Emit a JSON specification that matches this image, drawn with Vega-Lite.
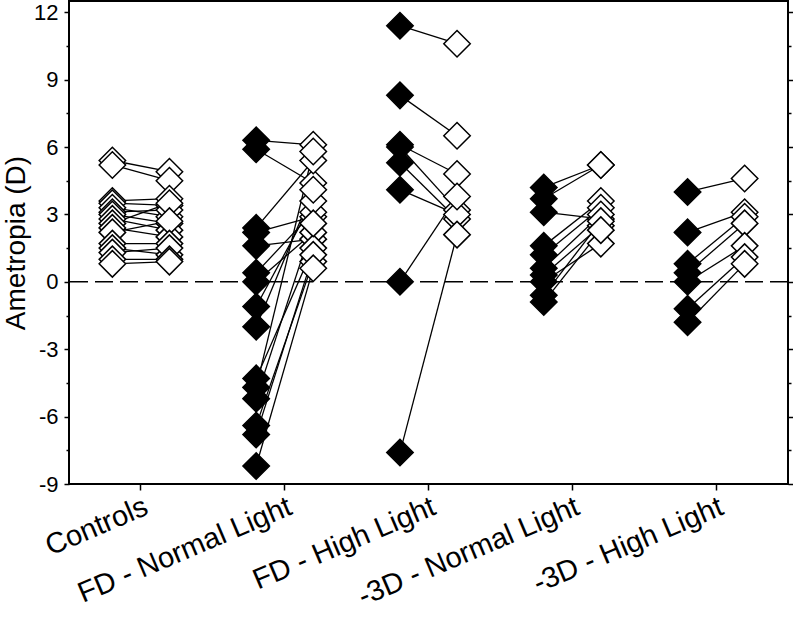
{
  "$schema": "https://vega.github.io/schema/vega-lite/v6.json",
  "width": 719,
  "height": 483,
  "autosize": "none",
  "padding": {"left": 69, "top": 1, "right": 5, "bottom": 135},
  "background": "white",
  "config": {
    "view": {"stroke": "black", "strokeWidth": 2},
    "font": "Liberation Sans",
    "axis": {"labelColor": "black", "tickColor": "black", "titleColor": "black", "labelFont": "Liberation Sans", "titleFont": "Liberation Sans", "grid": false, "domain": false, "tickWidth": 1.5, "labelLimit": 0}
  },
  "data": {"values": [
    {"id": "C1", "group": "Controls", "phase": "before", "value": 5.4}, {"id": "C1", "group": "Controls", "phase": "after", "value": 4.9},
    {"id": "C2", "group": "Controls", "phase": "before", "value": 5.2}, {"id": "C2", "group": "Controls", "phase": "after", "value": 4.5},
    {"id": "C3", "group": "Controls", "phase": "before", "value": 3.6}, {"id": "C3", "group": "Controls", "phase": "after", "value": 3.7},
    {"id": "C4", "group": "Controls", "phase": "before", "value": 3.5}, {"id": "C4", "group": "Controls", "phase": "after", "value": 3.4},
    {"id": "C5", "group": "Controls", "phase": "before", "value": 3.3}, {"id": "C5", "group": "Controls", "phase": "after", "value": 2.9},
    {"id": "C6", "group": "Controls", "phase": "before", "value": 3.1}, {"id": "C6", "group": "Controls", "phase": "after", "value": 3.2},
    {"id": "C7", "group": "Controls", "phase": "before", "value": 3.0}, {"id": "C7", "group": "Controls", "phase": "after", "value": 2.6},
    {"id": "C8", "group": "Controls", "phase": "before", "value": 2.8}, {"id": "C8", "group": "Controls", "phase": "after", "value": 2.3},
    {"id": "C9", "group": "Controls", "phase": "before", "value": 2.6}, {"id": "C9", "group": "Controls", "phase": "after", "value": 3.5},
    {"id": "C10", "group": "Controls", "phase": "before", "value": 2.4}, {"id": "C10", "group": "Controls", "phase": "after", "value": 2.0},
    {"id": "C11", "group": "Controls", "phase": "before", "value": 2.2}, {"id": "C11", "group": "Controls", "phase": "after", "value": 2.7},
    {"id": "C12", "group": "Controls", "phase": "before", "value": 1.7}, {"id": "C12", "group": "Controls", "phase": "after", "value": 1.7},
    {"id": "C13", "group": "Controls", "phase": "before", "value": 1.5}, {"id": "C13", "group": "Controls", "phase": "after", "value": 1.2},
    {"id": "C14", "group": "Controls", "phase": "before", "value": 1.3}, {"id": "C14", "group": "Controls", "phase": "after", "value": 1.5},
    {"id": "C15", "group": "Controls", "phase": "before", "value": 1.0}, {"id": "C15", "group": "Controls", "phase": "after", "value": 1.0},
    {"id": "C16", "group": "Controls", "phase": "before", "value": 0.8}, {"id": "C16", "group": "Controls", "phase": "after", "value": 0.9},

    {"id": "N1", "group": "FD - Normal Light", "phase": "before", "value": 6.3}, {"id": "N1", "group": "FD - Normal Light", "phase": "after", "value": 6.1},
    {"id": "N2", "group": "FD - Normal Light", "phase": "before", "value": 5.9}, {"id": "N2", "group": "FD - Normal Light", "phase": "after", "value": 4.4},
    {"id": "N3", "group": "FD - Normal Light", "phase": "before", "value": 2.4}, {"id": "N3", "group": "FD - Normal Light", "phase": "after", "value": 5.4},
    {"id": "N4", "group": "FD - Normal Light", "phase": "before", "value": 2.2}, {"id": "N4", "group": "FD - Normal Light", "phase": "after", "value": 2.9},
    {"id": "N5", "group": "FD - Normal Light", "phase": "before", "value": 1.6}, {"id": "N5", "group": "FD - Normal Light", "phase": "after", "value": 1.9},
    {"id": "N6", "group": "FD - Normal Light", "phase": "before", "value": 0.4}, {"id": "N6", "group": "FD - Normal Light", "phase": "after", "value": 3.1},
    {"id": "N7", "group": "FD - Normal Light", "phase": "before", "value": 0.0}, {"id": "N7", "group": "FD - Normal Light", "phase": "after", "value": 2.2},
    {"id": "N8", "group": "FD - Normal Light", "phase": "before", "value": -1.1}, {"id": "N8", "group": "FD - Normal Light", "phase": "after", "value": 3.6},
    {"id": "N9", "group": "FD - Normal Light", "phase": "before", "value": -2.0}, {"id": "N9", "group": "FD - Normal Light", "phase": "after", "value": 4.1},
    {"id": "N10", "group": "FD - Normal Light", "phase": "before", "value": -4.3}, {"id": "N10", "group": "FD - Normal Light", "phase": "after", "value": 1.5},
    {"id": "N11", "group": "FD - Normal Light", "phase": "before", "value": -4.7}, {"id": "N11", "group": "FD - Normal Light", "phase": "after", "value": 5.8},
    {"id": "N12", "group": "FD - Normal Light", "phase": "before", "value": -5.2}, {"id": "N12", "group": "FD - Normal Light", "phase": "after", "value": 2.6},
    {"id": "N13", "group": "FD - Normal Light", "phase": "before", "value": -6.4}, {"id": "N13", "group": "FD - Normal Light", "phase": "after", "value": 0.9},
    {"id": "N14", "group": "FD - Normal Light", "phase": "before", "value": -6.8}, {"id": "N14", "group": "FD - Normal Light", "phase": "after", "value": 1.2},
    {"id": "N15", "group": "FD - Normal Light", "phase": "before", "value": -8.2}, {"id": "N15", "group": "FD - Normal Light", "phase": "after", "value": 0.6},

    {"id": "H1", "group": "FD - High Light", "phase": "before", "value": 11.4}, {"id": "H1", "group": "FD - High Light", "phase": "after", "value": 10.6},
    {"id": "H2", "group": "FD - High Light", "phase": "before", "value": 8.3}, {"id": "H2", "group": "FD - High Light", "phase": "after", "value": 6.5},
    {"id": "H3", "group": "FD - High Light", "phase": "before", "value": 6.1}, {"id": "H3", "group": "FD - High Light", "phase": "after", "value": 4.8},
    {"id": "H4", "group": "FD - High Light", "phase": "before", "value": 6.0}, {"id": "H4", "group": "FD - High Light", "phase": "after", "value": 3.2},
    {"id": "H5", "group": "FD - High Light", "phase": "before", "value": 5.3}, {"id": "H5", "group": "FD - High Light", "phase": "after", "value": 2.8},
    {"id": "H6", "group": "FD - High Light", "phase": "before", "value": 4.1}, {"id": "H6", "group": "FD - High Light", "phase": "after", "value": 3.0},
    {"id": "H7", "group": "FD - High Light", "phase": "before", "value": 0.0}, {"id": "H7", "group": "FD - High Light", "phase": "after", "value": 3.8},
    {"id": "H8", "group": "FD - High Light", "phase": "before", "value": -7.6}, {"id": "H8", "group": "FD - High Light", "phase": "after", "value": 2.1},

    {"id": "M1", "group": "-3D - Normal Light", "phase": "before", "value": 4.2}, {"id": "M1", "group": "-3D - Normal Light", "phase": "after", "value": 5.2},
    {"id": "M2", "group": "-3D - Normal Light", "phase": "before", "value": 3.7}, {"id": "M2", "group": "-3D - Normal Light", "phase": "after", "value": 5.2},
    {"id": "M3", "group": "-3D - Normal Light", "phase": "before", "value": 3.1}, {"id": "M3", "group": "-3D - Normal Light", "phase": "after", "value": 2.8},
    {"id": "M4", "group": "-3D - Normal Light", "phase": "before", "value": 1.6}, {"id": "M4", "group": "-3D - Normal Light", "phase": "after", "value": 3.6},
    {"id": "M5", "group": "-3D - Normal Light", "phase": "before", "value": 1.2}, {"id": "M5", "group": "-3D - Normal Light", "phase": "after", "value": 3.3},
    {"id": "M6", "group": "-3D - Normal Light", "phase": "before", "value": 0.6}, {"id": "M6", "group": "-3D - Normal Light", "phase": "after", "value": 3.0},
    {"id": "M7", "group": "-3D - Normal Light", "phase": "before", "value": 0.3}, {"id": "M7", "group": "-3D - Normal Light", "phase": "after", "value": 2.5},
    {"id": "M8", "group": "-3D - Normal Light", "phase": "before", "value": 0.0}, {"id": "M8", "group": "-3D - Normal Light", "phase": "after", "value": 1.7},
    {"id": "M9", "group": "-3D - Normal Light", "phase": "before", "value": -0.6}, {"id": "M9", "group": "-3D - Normal Light", "phase": "after", "value": 2.7},
    {"id": "M10", "group": "-3D - Normal Light", "phase": "before", "value": -0.9}, {"id": "M10", "group": "-3D - Normal Light", "phase": "after", "value": 2.3},

    {"id": "K1", "group": "-3D - High Light", "phase": "before", "value": 4.0}, {"id": "K1", "group": "-3D - High Light", "phase": "after", "value": 4.6},
    {"id": "K2", "group": "-3D - High Light", "phase": "before", "value": 2.2}, {"id": "K2", "group": "-3D - High Light", "phase": "after", "value": 3.1},
    {"id": "K3", "group": "-3D - High Light", "phase": "before", "value": 0.8}, {"id": "K3", "group": "-3D - High Light", "phase": "after", "value": 2.9},
    {"id": "K4", "group": "-3D - High Light", "phase": "before", "value": 0.4}, {"id": "K4", "group": "-3D - High Light", "phase": "after", "value": 2.6},
    {"id": "K5", "group": "-3D - High Light", "phase": "before", "value": 0.0}, {"id": "K5", "group": "-3D - High Light", "phase": "after", "value": 1.6},
    {"id": "K6", "group": "-3D - High Light", "phase": "before", "value": -1.2}, {"id": "K6", "group": "-3D - High Light", "phase": "after", "value": 1.1},
    {"id": "K7", "group": "-3D - High Light", "phase": "before", "value": -1.8}, {"id": "K7", "group": "-3D - High Light", "phase": "after", "value": 0.8}
  ]},
  "layer": [
    {
      "data": {"values": [{"ref": 0}]},
      "mark": {"type": "rule", "color": "black", "strokeWidth": 1.5, "strokeDash": [18, 7]},
      "encoding": {
        "y": {"field": "ref", "type": "quantitative", "axis": null, "scale": {"domain": [-9, 12.5], "nice": false, "zero": false}}
      }
    },
    {
      "mark": {"type": "line", "color": "black", "strokeWidth": 1.3},
      "encoding": {
        "x": {"field": "group", "type": "nominal", "sort": ["Controls", "FD - Normal Light", "FD - High Light", "-3D - Normal Light", "-3D - High Light"], "scale": {"paddingInner": 0, "paddingOuter": 0},
          "axis": {"title": null, "labelAngle": -23, "labelAlign": "right", "labelBaseline": "top", "labelFontSize": 29, "tickSize": 6, "bandPosition": 0.5, "labelPadding": 2, "labelLimit": 0, "labelOverlap": false}},
        "xOffset": {"field": "phase", "type": "nominal", "sort": ["before", "after"], "scale": {"type": "point", "padding": 0.76}},
        "y": {"field": "value", "type": "quantitative", "scale": {"domain": [-9, 12.5], "nice": false, "zero": false},
          "axis": {"orient": "right", "title": null, "labels": false, "values": [-9, -7.5, -6, -4.5, -3, -1.5, 0, 1.5, 3, 4.5, 6, 7.5, 9, 10.5, 12],
            "tickSize": {"condition": {"test": "datum.value % 3 === 0", "value": 5}, "value": 3}}},
        "detail": {"field": "id"},
        "order": {"field": "phase", "sort": "descending"}
      }
    },
    {
      "mark": {"type": "point", "shape": "diamond", "size": 700, "stroke": "black", "strokeWidth": 1.5, "opacity": 1, "filled": true},
      "encoding": {
        "x": {"field": "group", "type": "nominal", "sort": ["Controls", "FD - Normal Light", "FD - High Light", "-3D - Normal Light", "-3D - High Light"], "scale": {"paddingInner": 0, "paddingOuter": 0},
          "axis": {"title": null, "labelAngle": -23, "labelAlign": "right", "labelBaseline": "top", "labelFontSize": 29, "tickSize": 6, "bandPosition": 0.5, "labelPadding": 2, "labelLimit": 0, "labelOverlap": false}},
        "xOffset": {"field": "phase", "type": "nominal", "sort": ["before", "after"], "scale": {"type": "point", "padding": 0.76}},
        "y": {"field": "value", "type": "quantitative", "scale": {"domain": [-9, 12.5], "nice": false, "zero": false},
          "axis": {"orient": "left", "title": "Ametropia (D)", "titleFontSize": 28, "titleFontWeight": "normal", "titlePadding": 3, "labelFontSize": 22, "labelPadding": 6,
            "values": [-9, -7.5, -6, -4.5, -3, -1.5, 0, 1.5, 3, 4.5, 6, 7.5, 9, 10.5, 12],
            "labelExpr": "datum.value % 3 === 0 ? replace(datum.label, '\u2212', '-') : ''",
            "tickSize": {"condition": {"test": "datum.value % 3 === 0", "value": 5}, "value": 3}}},
        "fill": {"condition": {"test": "datum.phase === 'before' && datum.group !== 'Controls'", "value": "black"}, "value": "white"}
      }
    }
  ],
  "resolve": {"axis": {"y": "independent"}}
}
